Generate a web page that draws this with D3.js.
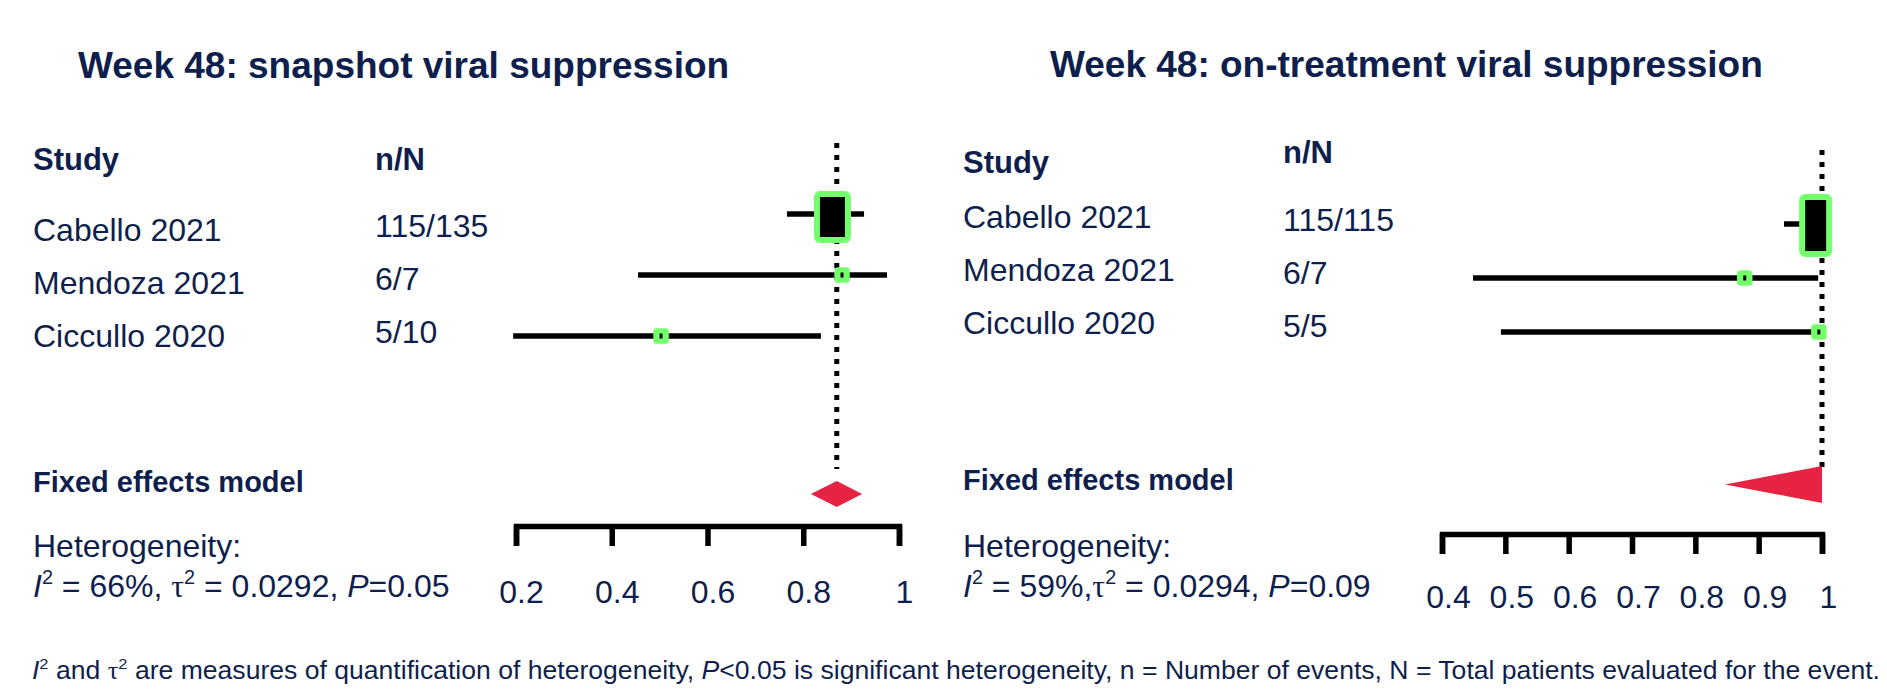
<!DOCTYPE html>
<html>
<head>
<meta charset="utf-8">
<script src="https://cdn.jsdelivr.net/npm/d3@7"></script>
<style>
  html, body { margin: 0; padding: 0; background: #ffffff; }
  svg { display: block; }
</style>
</head>
<body>
<svg id="chart" width="1887" height="695"></svg>
<script>
// ---------------- DATA ----------------
const studies = ["Cabello 2021", "Mendoza 2021", "Ciccullo 2020"];

const snapshotTitle = "Week 48: snapshot viral suppression";
const snapshotEvents = ["115/135", "6/7", "5/10"];
const snapshotEst   = [0.861, 0.881, 0.503];
const snapshotLower = [0.766, 0.455, 0.194];
const snapshotUpper = [0.927, 0.975, 0.837];
const snapshotPooled = [0.816, 0.870, 0.923];   // lower, estimate, upper
const snapshotTicks = [0.2, 0.4, 0.6, 0.8, 1];
const snapshotHet = [{t:"I",i:1},{t:"2",sup:1},{t:" = 66%, "},{t:"τ",serif:1},{t:"2",sup:1},{t:" = 0.0292, "},{t:"P",i:1},{t:"=0.05"}];

const ontreatTitle = "Week 48: on-treatment viral suppression";
const ontreatEvents = ["115/115", "6/7", "5/5"];
const ontreatEst   = [0.990, 0.878, 0.995];
const ontreatLower = [0.940, 0.449, 0.493];
const ontreatUpper = [1.000, 0.994, 0.994];
const ontreatPooled = [0.847, 1.000, 1.000];
const ontreatTicks = [0.4, 0.5, 0.6, 0.7, 0.8, 0.9, 1];
const ontreatHet = [{t:"I",i:1},{t:"2",sup:1},{t:" = 59%,"},{t:"τ",serif:1},{t:"2",sup:1},{t:" = 0.0294, "},{t:"P",i:1},{t:"=0.09"}];

const footnote = [{t:"I",i:1},{t:"2",sup:1},{t:" and "},{t:"τ",serif:1},{t:"2",sup:1},
  {t:" are measures of quantification of heterogeneity, "},{t:"P",i:1},
  {t:"<0.05 is significant heterogeneity, n = Number of events, N = Total patients evaluated for the event."}];

// ---------------- STYLE ----------------
const NAVY = "#0f1f4d";
const GREEN = "#74ff6c";
const RED = "#e62342";
const FONT = "'Liberation Sans', Arial, sans-serif";

const svg = d3.select("#chart");

function richText(g, x, y, segs, size, opts = {}) {
  const t = g.append("text").attr("x", x).attr("y", y)
    .attr("font-family", FONT).attr("font-size", size).attr("fill", NAVY)
    .attr("font-weight", opts.bold ? "bold" : "normal");
  let shift = 0;
  segs.forEach(s => {
    const ts = t.append("tspan").text(s.t);
    if (s.i) ts.attr("font-style", "italic");
    if (s.serif) ts.attr("font-family", "'Liberation Serif', 'DejaVu Serif', serif");
    if (s.sup) {
      ts.attr("font-size", size * 0.62).attr("dy", -size * 0.4);
      shift = size * 0.4;
    } else if (shift) {
      ts.attr("dy", shift);
      shift = 0;
    }
  });
  if (opts.fitWidth) {
    t.attr("textLength", opts.fitWidth).attr("lengthAdjust", "spacingAndGlyphs");
  }
  return t;
}

function panel(cfg) {
  const g = svg.append("g");
  // title
  g.append("text").attr("x", cfg.titleX).attr("y", cfg.titleY)
    .attr("font-family", FONT).attr("font-size", 37).attr("font-weight", "bold")
    .attr("fill", NAVY).text(cfg.title);
  // headers
  g.append("text").attr("x", cfg.labelX).attr("y", cfg.studyHeadY)
    .attr("font-family", FONT).attr("font-size", 31).attr("font-weight", "bold")
    .attr("fill", NAVY).text("Study");
  g.append("text").attr("x", cfg.nX).attr("y", cfg.nHeadY)
    .attr("font-family", FONT).attr("font-size", 31).attr("font-weight", "bold")
    .attr("fill", NAVY).text("n/N");

  const yLab = d3.scalePoint().domain(studies).range(cfg.labelRows);
  const yN = d3.scalePoint().domain(studies).range(cfg.nRows);
  const yMark = d3.scalePoint().domain(studies).range(cfg.markRows);

  g.selectAll(".study").data(studies).join("text")
    .attr("x", cfg.labelX).attr("y", d => yLab(d))
    .attr("font-family", FONT).attr("font-size", 32).attr("fill", NAVY).text(d => d);
  g.selectAll(".events").data(studies).join("text")
    .attr("x", cfg.nX).attr("y", (d) => yN(d))
    .attr("font-family", FONT).attr("font-size", 32).attr("fill", NAVY)
    .text((d, i) => cfg.events[i]);

  const x = d3.scaleLinear().domain([cfg.ticks[0], cfg.ticks[cfg.ticks.length - 1]]).range(cfg.xRange);

  // reference dashed line at pooled estimate
  g.append("line")
    .attr("x1", x(cfg.pooled[1])).attr("x2", x(cfg.pooled[1]))
    .attr("y1", cfg.dashY[0]).attr("y2", cfg.dashY[1])
    .attr("stroke", "#000").attr("stroke-width", 5).attr("stroke-dasharray", "5 7");

  // CI lines
  studies.forEach((s, i) => {
    g.append("line")
      .attr("x1", x(cfg.lower[i])).attr("x2", x(cfg.upper[i]))
      .attr("y1", yMark(s)).attr("y2", yMark(s))
      .attr("stroke", "#000").attr("stroke-width", 5.5);
  });

  // markers
  studies.forEach((s, i) => {
    const cx = x(cfg.est[i]), cy = yMark(s);
    if (i === 0) {
      const w = cfg.bigBox[0], h = cfg.bigBox[1];
      g.append("rect").attr("x", cx - w / 2).attr("y", cy - h / 2 + cfg.bigBox[2])
        .attr("width", w).attr("height", h).attr("rx", 3)
        .attr("fill", "#000").attr("stroke", GREEN).attr("stroke-width", 6);
    } else {
      const sz = 15.5;
      g.append("rect").attr("x", cx - sz / 2).attr("y", cy - sz / 2)
        .attr("width", sz).attr("height", sz).attr("rx", 3.5).attr("fill", GREEN);
      g.append("rect").attr("x", cx - 1.5).attr("y", cy - 2.5)
        .attr("width", 3).attr("height", 5).attr("fill", "#000");
    }
  });

  // pooled diamond
  const dy = cfg.diamondY, dh = cfg.diamondH;
  const pts = [[x(cfg.pooled[0]), dy], [x(cfg.pooled[1]), dy - dh / 2],
               [x(cfg.pooled[2]), dy], [x(cfg.pooled[1]), dy + dh / 2]];
  g.append("polygon").attr("points", pts.map(p => p.join(",")).join(" ")).attr("fill", RED);

  // axis
  const axis = d3.axisBottom(x).tickValues(cfg.ticks).tickSize(20).tickSizeOuter(20)
    .tickFormat(d3.format("~g"));
  const ag = g.append("g").attr("transform", `translate(0,${cfg.axisY})`).call(axis);
  ag.select(".domain").attr("stroke", "#000").attr("stroke-width", 5.5).attr("fill", "none");
  ag.selectAll(".tick line").attr("stroke", "#000").attr("stroke-width", 5.5);
  ag.selectAll(".tick text").attr("fill", NAVY).attr("font-family", FONT).attr("font-size", 32)
    .attr("y", cfg.tickTextY).attr("dy", "0.71em").attr("dx", cfg.tickDx);

  // bottom-left texts
  g.append("text").attr("x", cfg.labelX).attr("y", cfg.fixedY)
    .attr("font-family", FONT).attr("font-size", 29).attr("font-weight", "bold")
    .attr("fill", NAVY).text("Fixed effects model");
  g.append("text").attr("x", cfg.labelX).attr("y", 557)
    .attr("font-family", FONT).attr("font-size", 32).attr("fill", NAVY).text("Heterogeneity:");
  richText(g, cfg.labelX, 597, cfg.het, 32);
}

panel({
  title: snapshotTitle, titleX: 78, titleY: 78,
  labelX: 33, nX: 375, studyHeadY: 170, nHeadY: 170,
  labelRows: [241, 347], nRows: [237, 343], markRows: [214, 336],
  events: snapshotEvents, est: snapshotEst, lower: snapshotLower, upper: snapshotUpper,
  pooled: snapshotPooled, ticks: snapshotTicks, xRange: [516, 899],
  dashY: [143, 469], bigBox: [31, 46, 3], diamondY: 494, diamondH: 26,
  axisY: 526, tickTextY: 54, tickDx: 5, fixedY: 492, het: snapshotHet
});

panel({
  title: ontreatTitle, titleX: 1050, titleY: 77,
  labelX: 963, nX: 1283, studyHeadY: 173, nHeadY: 163,
  labelRows: [228, 334], nRows: [231, 337], markRows: [224, 332],
  events: ontreatEvents, est: ontreatEst, lower: ontreatLower, upper: ontreatUpper,
  pooled: ontreatPooled, ticks: ontreatTicks, xRange: [1442, 1822],
  dashY: [150, 468], bigBox: [27, 57, 1.5], diamondY: 484.5, diamondH: 37,
  axisY: 534, tickTextY: 51, tickDx: 6, fixedY: 490, het: ontreatHet
});

richText(svg, 32, 679, footnote, 25, { fitWidth: 1848 });
</script>
</body>
</html>
